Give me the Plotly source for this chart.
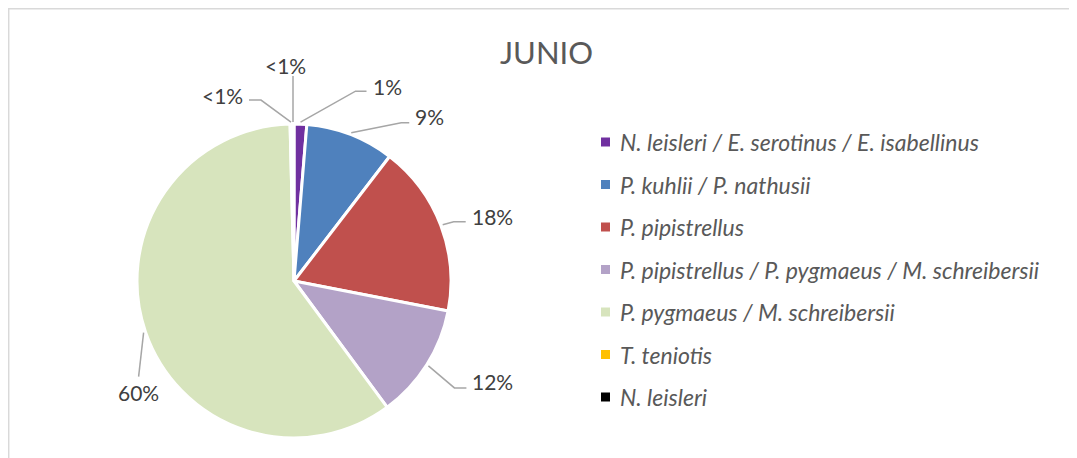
import math
import plotly.graph_objects as go

# ---------------- data ----------------
categories = [
    "N. leisleri / E. serotinus / E. isabellinus",
    "P. kuhlii / P. nathusii",
    "P. pipistrellus",
    "P. pipistrellus / P. pygmaeus / M. schreibersii",
    "P. pygmaeus / M. schreibersii",
    "T. teniotis",
    "N. leisleri",
]
values = [1.3, 9.1, 17.6, 11.8, 59.6, 0.2, 0.2]
title_text = "JUNIO"

# ---------------- styles ----------------
colors = ["#7030A0", "#4F81BD", "#C0504D", "#B3A2C7", "#D7E4BD", "#FFC000", "#000000"]
FONT = "Lato, Carlito, Calibri, 'Open Sans', sans-serif"
W, H = 1077, 458
OFF = 8  # page body margin offset
dom_x = [(137 - OFF) / W, (451 - OFF) / W]
dom_y = [1 - (438 - OFF) / H, 1 - (124 - OFF) / H]
# leader style per slice: elbow dx, elbow dy, horizontal length, text dx, text dy, text anchor
leader = [
    (55, -31, 11, 4, -5, "left"),
    (50, -10, 8, 4, -6, "left"),
    (11, -3, 12, 4, -5, "left"),
    (26, 22, 12, 4, -6, "left"),
    (-5, 44, 0, 0, 16, "center"),
    (-30, -22, -12, -4, -5, "right"),
    (0, -46, 0, -7, -11, "center"),
]
legend_x, legend_y0, legend_dy = 601, 142, 42.5


def px(x):
    return (x - OFF) / W


def py(y):
    return 1 - (y - OFF) / H


fig = go.Figure(
    go.Pie(
        labels=categories,
        values=values,
        sort=False,
        direction="clockwise",
        rotation=0,
        textinfo="none",
        hoverinfo="label+percent",
        marker=dict(colors=colors, line=dict(color="white", width=3)),
        domain=dict(x=dom_x, y=dom_y),
        showlegend=False,
    )
)

shapes = []
annotations = []

# pie geometry in screen pixels
cx = (dom_x[0] + dom_x[1]) / 2 * W + OFF
cy = (1 - (dom_y[0] + dom_y[1]) / 2) * H + OFF
R = min((dom_x[1] - dom_x[0]) * W, (dom_y[1] - dom_y[0]) * H) / 2
total = sum(values)
cum = 0.0
for v, st in zip(values, leader):
    mid = (cum + v / 2) / total * 2 * math.pi
    cum += v
    ax = cx + (R + 2) * math.sin(mid)
    ay = cy - (R + 2) * math.cos(mid)
    ex, ey = ax + st[0], ay + st[1]
    hx = ex + st[2]
    shapes.append(dict(
        type="path", xref="paper", yref="paper",
        path=f"M {px(ax)} {py(ay)} L {px(ex)} {py(ey)} L {px(hx)} {py(ey)}",
        line=dict(color="#A6A6A6", width=1.5),
    ))
    p = 100 * v / total
    txt = "<1%" if p < 1 else f"{round(p)}%"
    annotations.append(dict(
        x=px(hx + st[3]), y=py(ey + st[4]), xref="paper", yref="paper",
        text=txt, showarrow=False, xanchor=st[5], yanchor="middle",
        font=dict(family=FONT, size=21, color="#404040"),
    ))

# legend (manual)
for i, (cat, col) in enumerate(zip(categories, colors)):
    y = legend_y0 + i * legend_dy
    shapes.append(dict(
        type="rect", xref="paper", yref="paper",
        x0=px(legend_x), x1=px(legend_x + 9), y0=py(y + 4.5), y1=py(y - 4.5),
        fillcolor=col, line=dict(width=0),
    ))
    annotations.append(dict(
        x=px(legend_x + 17), y=py(y), xref="paper", yref="paper",
        text=cat, showarrow=False, xanchor="left", yanchor="middle",
        font=dict(family=FONT, size=23, color="#595959", style="italic"),
    ))

# title
annotations.append(dict(
    x=px(546), y=py(52), xref="paper", yref="paper", text=title_text,
    showarrow=False, xanchor="center", yanchor="middle",
    font=dict(family=FONT, size=31, color="#595959"),
))

# chart frame
shapes.append(dict(
    type="rect", xref="paper", yref="paper",
    x0=px(8.7), x1=px(W + 20), y0=py(H + 20), y1=py(8.7),
    line=dict(color="#D9D9D9", width=1.5), fillcolor="rgba(0,0,0,0)",
))

fig.update_layout(
    width=W, height=H,
    margin=dict(l=0, r=0, t=0, b=0),
    paper_bgcolor="white", plot_bgcolor="white",
    shapes=shapes, annotations=annotations,
    showlegend=False,
)

fig.write_html("out.html")
